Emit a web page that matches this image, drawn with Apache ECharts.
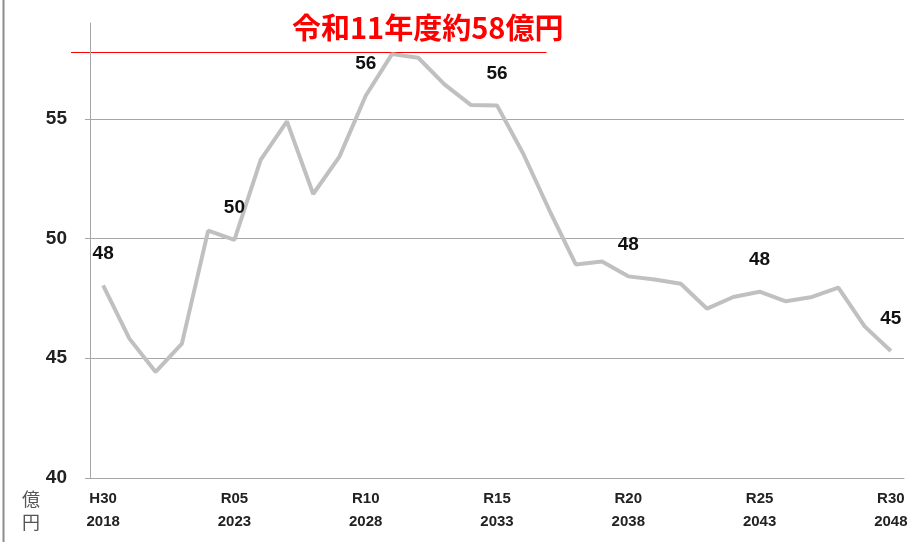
<!DOCTYPE html>
<html>
<head>
<meta charset="utf-8">
<script src="https://cdn.jsdelivr.net/npm/echarts@6/dist/echarts.min.js"></script>
<style>
  html, body { margin: 0; padding: 0; background: #fff; }
  #chart { width: 909px; height: 542px; }
</style>
</head>
<body>
<div id="chart"></div>
<script>
// 年度（西暦）と元号表記
const years = ['2018', '2019', '2020', '2021', '2022', '2023', '2024', '2025', '2026', '2027',
  '2028', '2029', '2030', '2031', '2032', '2033', '2034', '2035', '2036', '2037',
  '2038', '2039', '2040', '2041', '2042', '2043', '2044', '2045', '2046', '2047', '2048']
const eras = ['H30', 'R01', 'R02', 'R03', 'R04', 'R05', 'R06', 'R07', 'R08', 'R09',
  'R10', 'R11', 'R12', 'R13', 'R14', 'R15', 'R16', 'R17', 'R18', 'R19',
  'R20', 'R21', 'R22', 'R23', 'R24', 'R25', 'R26', 'R27', 'R28', 'R29', 'R30']
// 億円
const values = [48.04, 45.82, 44.43, 45.61, 50.33, 49.94, 53.28, 54.89, 51.86, 53.42,
  55.96, 57.70, 57.55, 56.44, 55.58, 55.56, 53.54, 51.17, 48.92, 49.04,
  48.42, 48.29, 48.11, 47.07, 47.56, 47.78, 47.38, 47.56, 47.95, 46.33, 45.30]
const yTicks = [40, 45, 50, 55]
const peakText = '令和11年度約58億円'
const unitText = '億\n円'

const myChart = echarts.init(document.getElementById('chart'))

const option = {
  animation: false,
  grid: { left: 90, right: 5, top: 23, bottom: 64, outerBoundsMode: 'none', containLabel: false },
  title: {
    text: peakText,
    left: 287,
    top: 8,
    textStyle: {
      color: '#ff0000',
      fontSize: 29,
      fontWeight: 'bold',
      fontFamily: 'Noto Sans CJK JP'
    }
  },
  xAxis: {
    type: 'category',
    data: years,
    boundaryGap: true,
    axisLine: { lineStyle: { color: '#a6a6a6', width: 1 } },
    axisTick: { show: false },
    axisLabel: {
      interval: 4,
      margin: 9,
      lineHeight: 23,
      fontSize: 15,
      fontWeight: 'bold',
      color: '#222',
      fontFamily: 'Liberation Sans',
      formatter: (v, i) => eras[i] + '\n' + v
    }
  },
  yAxis: {
    type: 'value',
    min: 40,
    max: 59,
    interval: 5,
    axisLine: { show: true, lineStyle: { color: '#a6a6a6', width: 1 } },
    axisTick: { show: true, length: 5, customValues: yTicks, lineStyle: { color: '#a6a6a6' } },
    axisLabel: {
      customValues: yTicks,
      margin: 23,
      fontSize: 19,
      fontWeight: 'bold',
      color: '#222',
      fontFamily: 'Liberation Sans'
    },
    splitLine: {
      show: true,
      lineStyle: { color: ['#a6a6a6', '#a6a6a6', '#a6a6a6', '#a6a6a6', 'rgba(0,0,0,0)'], width: 1 }
    }
  },
  series: [
    {
      name: '億円',
      type: 'line',
      data: values,
      symbol: 'circle',
      symbolSize: 1,
      showSymbol: true,
      itemStyle: { color: 'rgba(0,0,0,0)' },
      lineStyle: { color: '#c0c0c0', width: 4 },
      label: {
        show: true,
        position: 'top',
        distance: 22,
        fontSize: 19,
        fontWeight: 'bold',
        color: '#111',
        fontFamily: 'Liberation Sans',
        formatter: (p) => (p.dataIndex % 5 === 0 ? String(Math.round(p.value)) : '')
      }
    }
  ]
}

myChart.setOption(option)

// 最大値の赤線、単位、左枠線
const peak = Math.max(...values)
const peakY = Math.round(myChart.convertToPixel({ yAxisIndex: 0 }, peak)) - 1.5
const endX = myChart.convertToPixel({ xAxisIndex: 0 }, 17)
myChart.setOption({
  graphic: [
    {
      type: 'line',
      shape: { x1: 71, y1: peakY, x2: endX - 3, y2: peakY },
      style: { stroke: '#ff0000', lineWidth: 1 }
    },
    {
      type: 'text',
      left: 22,
      top: 488,
      style: {
        text: unitText,
        fill: '#555',
        fontSize: 18,
        lineHeight: 23,
        fontFamily: 'Noto Sans CJK JP'
      }
    },
    {
      type: 'line',
      shape: { x1: 3.5, y1: 0, x2: 3.5, y2: 542 },
      style: { stroke: '#8c8c8c', lineWidth: 2 }
    }
  ]
})

window.addEventListener('resize', () => {
  myChart.resize()
})
</script>
</body>
</html>
